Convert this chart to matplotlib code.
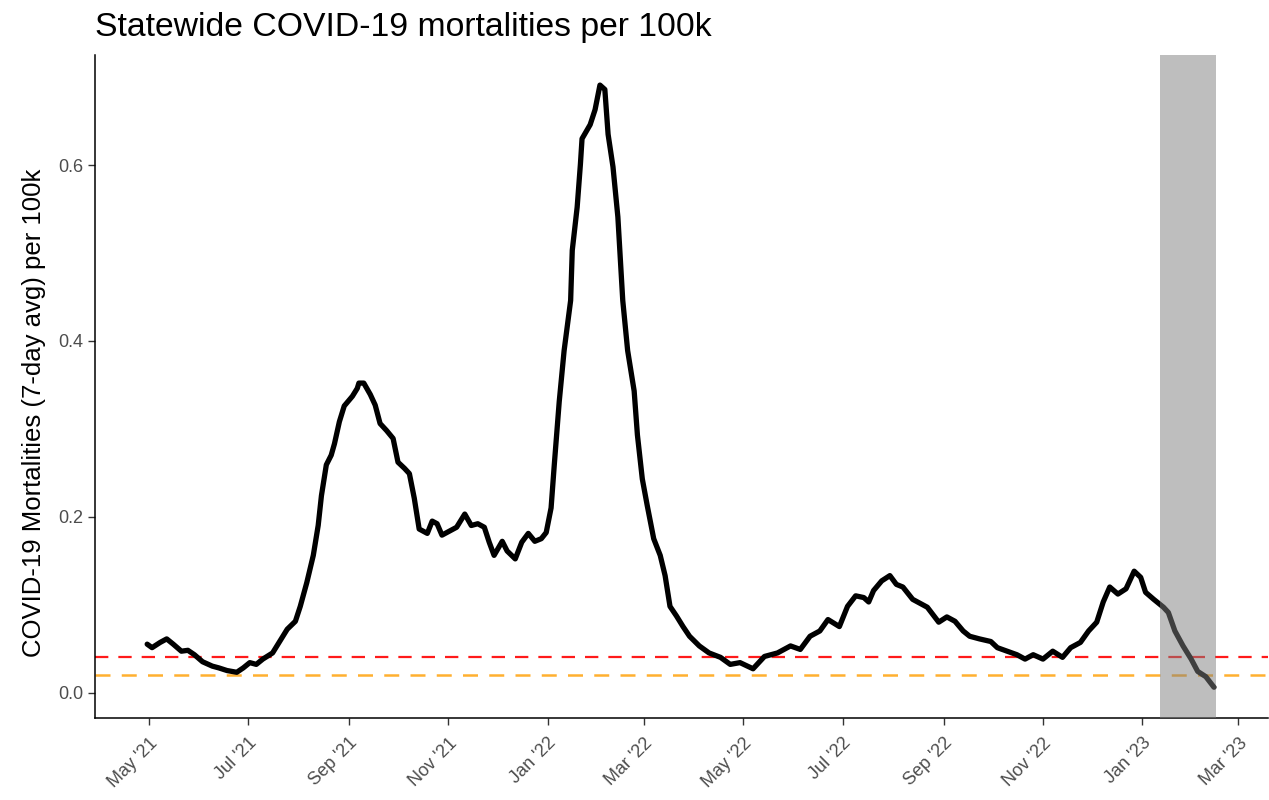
import numpy as np
import pandas as pd
import matplotlib
matplotlib.use("Agg")
import matplotlib.pyplot as plt
import matplotlib.dates as mdates

plt.rcParams['font.family'] = ['Liberation Sans', 'DejaVu Sans']

# statewide 7-day avg mortalities per 100k
dates = [
    "2021-04-30", "2021-05-03", "2021-05-08", "2021-05-12", "2021-05-16", "2021-05-21",
    "2021-05-25", "2021-05-29", "2021-06-03", "2021-06-09", "2021-06-13", "2021-06-18",
    "2021-06-24", "2021-06-28", "2021-07-02", "2021-07-06", "2021-07-10", "2021-07-16",
    "2021-07-20", "2021-07-25", "2021-07-30", "2021-08-02", "2021-08-06", "2021-08-10",
    "2021-08-13", "2021-08-15", "2021-08-18", "2021-08-21", "2021-08-23", "2021-08-26",
    "2021-08-29", "2021-09-03", "2021-09-06", "2021-09-07", "2021-09-10", "2021-09-14",
    "2021-09-17", "2021-09-20", "2021-09-24", "2021-09-28", "2021-10-01", "2021-10-05",
    "2021-10-08", "2021-10-11", "2021-10-14", "2021-10-19", "2021-10-22", "2021-10-25",
    "2021-10-28", "2021-11-02", "2021-11-06", "2021-11-11", "2021-11-15", "2021-11-19",
    "2021-11-23", "2021-11-26", "2021-11-29", "2021-12-04", "2021-12-07", "2021-12-12",
    "2021-12-16", "2021-12-20", "2021-12-24", "2021-12-28", "2021-12-31", "2022-01-03",
    "2022-01-05", "2022-01-08", "2022-01-11", "2022-01-15", "2022-01-16", "2022-01-19",
    "2022-01-21", "2022-01-22", "2022-01-27", "2022-01-30", "2022-02-02", "2022-02-05",
    "2022-02-07", "2022-02-10", "2022-02-13", "2022-02-16", "2022-02-19", "2022-02-23",
    "2022-02-25", "2022-02-28", "2022-03-03", "2022-03-07", "2022-03-11", "2022-03-14",
    "2022-03-17", "2022-03-21", "2022-03-25", "2022-03-29", "2022-04-04", "2022-04-10",
    "2022-04-17", "2022-04-23", "2022-04-29", "2022-05-07", "2022-05-14", "2022-05-22",
    "2022-05-30", "2022-06-05", "2022-06-11", "2022-06-17", "2022-06-22", "2022-06-29",
    "2022-07-04", "2022-07-09", "2022-07-14", "2022-07-17", "2022-07-20", "2022-07-25",
    "2022-07-30", "2022-08-03", "2022-08-07", "2022-08-13", "2022-08-18", "2022-08-22",
    "2022-08-29", "2022-09-03", "2022-09-08", "2022-09-13", "2022-09-17", "2022-09-23",
    "2022-09-30", "2022-10-04", "2022-10-10", "2022-10-16", "2022-10-21", "2022-10-26",
    "2022-11-01", "2022-11-07", "2022-11-13", "2022-11-18", "2022-11-24", "2022-11-29",
    "2022-12-04", "2022-12-08", "2022-12-12", "2022-12-17", "2022-12-22", "2022-12-27",
    "2022-12-31", "2023-01-03", "2023-01-08", "2023-01-14", "2023-01-17", "2023-01-21",
    "2023-01-26", "2023-01-31", "2023-02-04", "2023-02-09", "2023-02-14",
]
values = [
    0.055, 0.051, 0.057, 0.061, 0.055, 0.047,
    0.048, 0.043, 0.035, 0.030, 0.028, 0.025,
    0.023, 0.028, 0.034, 0.032, 0.038, 0.045,
    0.057, 0.072, 0.081, 0.098, 0.125, 0.156,
    0.190, 0.224, 0.259, 0.270, 0.283, 0.308,
    0.326, 0.337, 0.346, 0.352, 0.352, 0.339,
    0.327, 0.306, 0.298, 0.289, 0.262, 0.255,
    0.249, 0.221, 0.186, 0.181, 0.195, 0.192,
    0.179, 0.184, 0.188, 0.203, 0.190, 0.192,
    0.188, 0.171, 0.156, 0.172, 0.161, 0.152,
    0.171, 0.181, 0.172, 0.175, 0.182, 0.210,
    0.260, 0.331, 0.389, 0.446, 0.503, 0.552,
    0.601, 0.630, 0.646, 0.663, 0.691, 0.686,
    0.635, 0.598, 0.541, 0.446, 0.389, 0.343,
    0.293, 0.243, 0.213, 0.175, 0.156, 0.133,
    0.098, 0.087, 0.075, 0.064, 0.053, 0.045,
    0.040, 0.032, 0.034, 0.027, 0.041, 0.045,
    0.053, 0.049, 0.064, 0.070, 0.083, 0.075,
    0.098, 0.110, 0.108, 0.103, 0.116, 0.127,
    0.133, 0.123, 0.120, 0.106, 0.101, 0.097,
    0.080, 0.086, 0.081, 0.070, 0.064, 0.061,
    0.058, 0.051, 0.047, 0.043, 0.038, 0.043,
    0.038, 0.047, 0.040, 0.051, 0.057, 0.070,
    0.080, 0.103, 0.120, 0.112, 0.118, 0.138,
    0.131, 0.114, 0.106, 0.097, 0.091, 0.070,
    0.053, 0.038, 0.024, 0.018, 0.006,
]

red_level = 0.04
orange_level = 0.02
shade_start, shade_end = "2023-01-12", "2023-02-15"
tick_dates = pd.date_range("2021-05-01", "2023-03-01", freq="2MS")

df = pd.DataFrame({"date": pd.to_datetime(dates), "value": values})

fig = plt.figure(figsize=(12.69, 8), dpi=100)
ax = fig.add_axes([0.0749, 0.1025, 0.9241, 0.8285])

ax.plot(df["date"], df["value"], color="black", lw=3.8, solid_joinstyle="round",
        solid_capstyle="round", zorder=3)
ax.axhline(red_level, color="#FF1A1A", lw=1.6, ls=(0, (6, 4.5)), zorder=2)
ax.axhline(orange_level, color="#FFB030", lw=1.8, ls=(0, (6, 4.5)), zorder=2)
ax.axvspan(pd.Timestamp(shade_start), pd.Timestamp(shade_end), color="#7F7F7F",
           alpha=0.5, lw=0, zorder=4)

ax.set_xlim(pd.Timestamp("2021-03-29"), pd.Timestamp("2023-03-19"))
ax.set_ylim(-0.029, 0.725)
ax.set_yticks([0.0, 0.2, 0.4, 0.6])
ax.set_yticklabels(["0.0", "0.2", "0.4", "0.6"])
ax.set_xticks(tick_dates)
ax.xaxis.set_major_formatter(mdates.DateFormatter("%b '%y"))

for s in ["top", "right"]:
    ax.spines[s].set_visible(False)
for s in ["left", "bottom"]:
    ax.spines[s].set_linewidth(1.1)
ax.tick_params(axis="both", length=5, width=1.0, colors="#333333",
               labelsize=13, labelcolor="#4D4D4D")
ax.tick_params(axis="x", pad=7)
plt.setp(ax.get_xticklabels(), rotation=45, ha="right", rotation_mode="anchor")

ax.set_ylabel("COVID-19 Mortalities (7-day avg) per 100k", fontsize=18.5)
ax.yaxis.set_label_coords(-0.042, 0.46)
ax.set_title("Statewide COVID-19 mortalities per 100k", fontsize=24.3, loc="left", pad=14)

fig.savefig("out.png", dpi=100)
